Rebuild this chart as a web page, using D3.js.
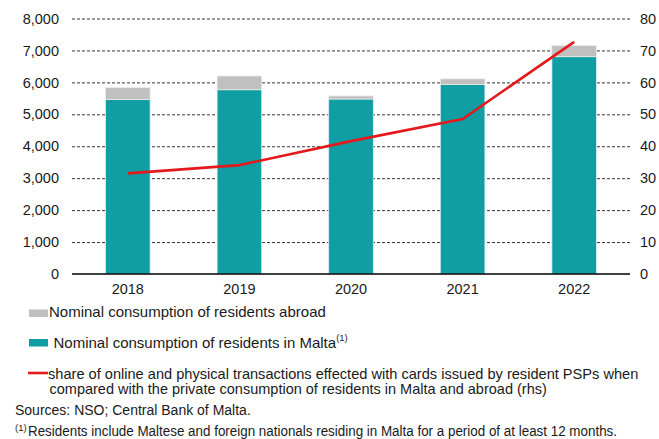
<!DOCTYPE html>
<html>
<head>
<meta charset="utf-8">
<script src="https://cdn.jsdelivr.net/npm/d3@7"></script>
<style>
  html, body { margin: 0; padding: 0; background: #fff; }
  svg { display: block; font-family: "Liberation Sans", Arial, sans-serif; }
</style>
</head>
<body>
<div id="chart"></div>
<script>
// Data (EUR millions on the left axis, per cent on the right axis)
const years = ['2018', '2019', '2020', '2021', '2022'];
const inMalta = [5460, 5770, 5480, 5930, 6805];
const abroad = [375, 430, 95, 180, 345];
const cardShare = [31.5, 34.1, 41.6, 48.5, 72.7];
const leftTicks = [0, 1000, 2000, 3000, 4000, 5000, 6000, 7000, 8000];
const rightTicks = [0, 10, 20, 30, 40, 50, 60, 70, 80];

const colors = {
  malta: '#109da4',
  abroad: '#c0c0c0',
  line: '#e3191c',
  text: '#1a1a1a',
  grid: '#333'
};

const width = 659;
const height = 439;
const margin = { top: 18.5, right: 29, bottom: 165, left: 72 };
const innerW = width - margin.left - margin.right;
const innerH = height - margin.top - margin.bottom;

const svg = d3.select('#chart')
  .append('svg')
  .attr('width', width)
  .attr('height', height);

const g = svg.append('g')
  .attr('transform', `translate(${margin.left},${margin.top})`);

// Scales
const x = d3.scaleBand()
  .domain(years)
  .range([0, innerW])
  .paddingInner(0.6)
  .paddingOuter(0.3);

const yLeft = d3.scaleLinear().domain([0, 8000]).range([innerH, 0]);
const yRight = d3.scaleLinear().domain([0, 80]).range([innerH, 0]);

// Dashed gridlines
g.selectAll('.grid')
  .data(leftTicks.filter(d => d > 0))
  .enter()
  .append('line')
  .attr('class', 'grid')
  .attr('x1', 0)
  .attr('x2', innerW)
  .attr('y1', d => yLeft(d) + 0.5)
  .attr('y2', d => yLeft(d) + 0.5)
  .attr('stroke', colors.grid)
  .attr('stroke-width', 1)
  .attr('stroke-dasharray', '3,2');

// Stacked bars
const stacked = years.map((yr, i) => ({ year: yr, malta: inMalta[i], abroad: abroad[i] }));

g.selectAll('.bar-malta')
  .data(stacked)
  .enter()
  .append('rect')
  .attr('class', 'bar-malta')
  .attr('x', d => x(d.year))
  .attr('y', d => yLeft(d.malta))
  .attr('width', x.bandwidth())
  .attr('height', d => innerH - yLeft(d.malta))
  .attr('fill', colors.malta)
  .attr('stroke', '#dff0f0')
  .attr('stroke-width', 0.8);

g.selectAll('.bar-abroad')
  .data(stacked)
  .enter()
  .append('rect')
  .attr('class', 'bar-abroad')
  .attr('x', d => x(d.year))
  .attr('y', d => yLeft(d.malta + d.abroad))
  .attr('width', x.bandwidth())
  .attr('height', d => yLeft(d.malta) - yLeft(d.malta + d.abroad))
  .attr('fill', colors.abroad)
  .attr('stroke', '#ececec')
  .attr('stroke-width', 0.8);

// Zero axis line
g.append('line')
  .attr('x1', 0)
  .attr('x2', innerW)
  .attr('y1', innerH)
  .attr('y2', innerH)
  .attr('stroke', '#000')
  .attr('stroke-width', 1.6);

// Card share line (rhs)
const line = d3.line()
  .x((d, i) => x(years[i]) + x.bandwidth() / 2)
  .y(d => yRight(d));

g.append('path')
  .datum(cardShare)
  .attr('d', line)
  .attr('fill', 'none')
  .attr('stroke', colors.line)
  .attr('stroke-width', 2.6);

// Left axis labels
const yLeftAxis = g.append('g')
  .call(d3.axisLeft(yLeft).tickValues(leftTicks).tickSize(0).tickPadding(13).tickFormat(d3.format(',')));
yLeftAxis.select('.domain').remove();
yLeftAxis.selectAll('text')
  .attr('fill', colors.text)
  .attr('font-size', '14.5px')
  .attr('font-family', '"Liberation Sans", Arial, sans-serif');

// Right axis labels
const yRightAxis = g.append('g')
  .attr('transform', `translate(${innerW},0)`)
  .call(d3.axisRight(yRight).tickValues(rightTicks).tickSize(0).tickPadding(10));
yRightAxis.select('.domain').remove();
yRightAxis.selectAll('text')
  .attr('fill', colors.text)
  .attr('font-size', '14.5px')
  .attr('font-family', '"Liberation Sans", Arial, sans-serif');

// Year labels
const xAxis = g.append('g')
  .attr('transform', `translate(0,${innerH})`)
  .call(d3.axisBottom(x).tickSize(0).tickPadding(10));
xAxis.select('.domain').remove();
xAxis.selectAll('text')
  .attr('fill', colors.text)
  .attr('font-size', '14.5px')
  .attr('font-family', '"Liberation Sans", Arial, sans-serif');

// Legend
const legend = svg.append('g').attr('fill', colors.text);

legend.append('rect')
  .attr('x', 29).attr('y', 309.5).attr('width', 19).attr('height', 7.5)
  .attr('fill', colors.abroad);
legend.append('text')
  .attr('x', 49).attr('y', 317)
  .attr('font-size', '15px')
  .text('Nominal consumption of residents abroad');

legend.append('rect')
  .attr('x', 29).attr('y', 339).attr('width', 19).attr('height', 7.5)
  .attr('fill', colors.malta);
const maltaLabel = legend.append('text')
  .attr('x', 53.5).attr('y', 348)
  .attr('font-size', '15px')
  .text('Nominal consumption of residents in Malta');
maltaLabel.append('tspan')
  .attr('dy', -7.5)
  .attr('font-size', '9.5px')
  .text('(1)');

legend.append('line')
  .attr('x1', 28).attr('x2', 48).attr('y1', 373).attr('y2', 373)
  .attr('stroke', colors.line).attr('stroke-width', 2.6);
legend.append('text')
  .attr('x', 48).attr('y', 378.5)
  .attr('font-size', '14.6px')
  .text('share of online and physical transactions effected with cards issued by resident PSPs when');
legend.append('text')
  .attr('x', 49.5).attr('y', 393.7)
  .attr('font-size', '14.5px')
  .text('compared with the private consumption of residents in Malta and abroad (rhs)');

// Sources and footnote
svg.append('text')
  .attr('x', 15).attr('y', 414.7)
  .attr('font-size', '14px').attr('fill', colors.text)
  .text('Sources: NSO; Central Bank of Malta.');

svg.append('text')
  .attr('x', 15).attr('y', 431)
  .attr('font-size', '9.5px').attr('fill', colors.text)
  .text('(1)');
svg.append('text')
  .attr('x', 28).attr('y', 436.3)
  .attr('font-size', '14px').attr('fill', colors.text)
  .attr('textLength', 589)
  .attr('lengthAdjust', 'spacingAndGlyphs')
  .text('Residents include Maltese and foreign nationals residing in Malta for a period of at least 12 months.');
</script>
</body>
</html>
